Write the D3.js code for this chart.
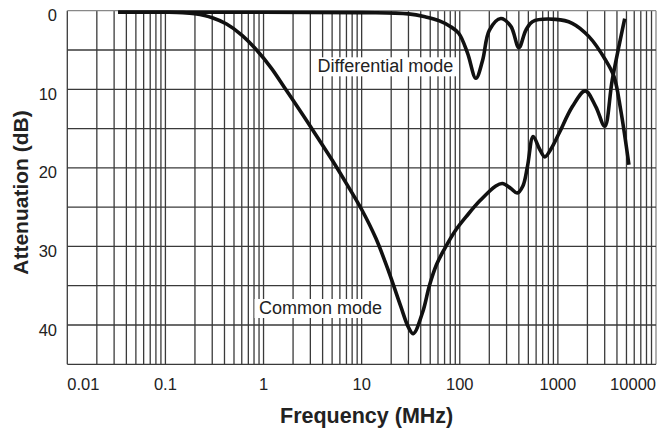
<!DOCTYPE html>
<html>
<head>
<meta charset="utf-8">
<script src="https://cdn.jsdelivr.net/npm/d3@7"></script>
<style>
  html, body { margin: 0; padding: 0; background: #fff; }
  svg { display: block; font-family: "Liberation Sans", Arial, Helvetica, sans-serif; }
</style>
</head>
<body>
<svg id="chart" width="660" height="431"></svg>
<script>
// ---- data ----
const xTickValues = [0.01, 0.1, 1, 10, 100, 1000, 10000];
const xTickLabels = ["0.01", "0.1", "1", "10", "100", "1000", "10000"];
const yTickValues = [0, 10, 20, 30, 40];
const yTickLabels = ["0", "10", "20", "30", "40"];

// Differential mode: frequency (MHz), attenuation (dB)
const diffFreq = [0.033, 1, 10, 30, 45, 62, 80, 98, 120, 146, 171, 200, 262, 332, 400, 471, 550, 950, 1400, 2075, 3069, 3733, 4365, 5297];
const diffAtt  = [0.2, 0.2, 0.25, 0.4, 0.8, 1.3, 2.0, 2.9, 5.4, 8.6, 6.3, 2.5, 1.0, 2.0, 4.7, 2.5, 1.4, 1.1, 1.6, 3.3, 6.3, 8.4, 12.6, 19.6];

// Common mode
const cmFreq = [0.033, 0.1, 0.15, 0.2, 0.3, 0.42, 0.6, 0.85, 1.2, 1.7, 2.5, 3.5, 5, 7, 10, 14, 19, 25, 30, 33.6, 42, 49, 58, 70, 90, 120, 160, 233, 272, 330, 385, 440, 490, 560, 650, 735, 850, 1028, 1406, 1900, 2432, 3000, 3583, 4800];
const cmAtt  = [0.2, 0.2, 0.25, 0.4, 0.9, 1.7, 3.1, 5.0, 7.3, 10.1, 13.2, 16.0, 19.0, 22.0, 25.3, 29.0, 33.3, 37.6, 40.3, 41.1, 38.3, 35.0, 32.3, 30.3, 28.0, 26.0, 24.2, 22.3, 22.0, 22.6, 23.2, 22.3, 19.8, 16.0, 17.6, 18.6, 17.6, 15.6, 12.2, 10.2, 12.2, 14.7, 8.8, 1.0];

// Curve labels (anchored in data coordinates)
const labelNames = ["Differential mode", "Common mode"];
const labelFreq = [3.55, 0.9];
const labelAtt = [7.84, 38.6];

// ---- layout ----
const svg = d3.select("#chart");
const plot = { left: 67.3, right: 656, top: 10.7, bottom: 364.3 };

const x = d3.scaleLog().domain([0.01, 10000]).range([plot.left, plot.right]);
const y = d3.scaleLinear().domain([0, 45]).range([plot.top, plot.bottom]);

const gridColor = "#3a3a3a";

// vertical grid lines (1..9 per decade)
const vLines = [];
for (let d = 0.01; d < 10000 * 0.99; d *= 10) {
  for (let k = 1; k <= 9; k++) vLines.push(+(d * k).toPrecision(6));
}
vLines.push(10000);

svg.append("g").selectAll("line").data(vLines).join("line")
  .attr("x1", d => x(d)).attr("x2", d => x(d))
  .attr("y1", plot.top).attr("y2", plot.bottom)
  .attr("stroke", d => (d === 10000 ? "#888" : gridColor))
  .attr("stroke-width", 1.3);

// horizontal grid lines every 5 dB
const hLines = d3.range(0, 46, 5);
svg.append("g").selectAll("line").data(hLines).join("line")
  .attr("x1", plot.left).attr("x2", plot.right)
  .attr("y1", d => y(d)).attr("y2", d => y(d))
  .attr("stroke", d => (d === 0 ? "#888" : gridColor))
  .attr("stroke-width", 1.3);

// x tick labels
svg.append("g").selectAll("text").data(xTickValues).join("text")
  .attr("x", d => x(d))
  .attr("y", plot.bottom + 26)
  .attr("text-anchor", (d, i) => i === 0 ? "start" : (i === xTickValues.length - 1 ? "end" : "middle"))
  .attr("font-size", 16.5)
  .attr("fill", "#222")
  .text((d, i) => xTickLabels[i]);

// y tick labels
svg.append("g").selectAll("text").data(yTickValues).join("text")
  .attr("x", 57)
  .attr("y", d => y(d) + 10.5)
  .attr("text-anchor", "end")
  .attr("font-size", 16.5)
  .attr("fill", "#222")
  .text((d, i) => yTickLabels[i]);

// axis titles
svg.append("text")
  .attr("x", (plot.left + plot.right) / 2 + 5)
  .attr("y", 423)
  .attr("text-anchor", "middle")
  .attr("font-size", 21.5)
  .attr("font-weight", "bold")
  .attr("fill", "#222")
  .text("Frequency (MHz)");

svg.append("text")
  .attr("transform", "translate(28," + ((plot.top + plot.bottom) / 2 + 5) + ") rotate(-90)")
  .attr("text-anchor", "middle")
  .attr("font-size", 21)
  .attr("font-weight", "bold")
  .attr("fill", "#222")
  .text("Attenuation (dB)");

// curve labels with white boxes
const lab = svg.append("g").selectAll("g").data(labelNames).join("g");
lab.each(function (name, i) {
  const g = d3.select(this);
  const t = g.append("text")
    .attr("x", x(labelFreq[i]))
    .attr("y", y(labelAtt[i]))
    .attr("font-size", 18)
    .attr("fill", "#222")
    .text(name);
  const bb = t.node().getBBox();
  g.insert("rect", "text")
    .attr("x", bb.x - 4.5)
    .attr("y", bb.y + 1)
    .attr("width", bb.width + 8)
    .attr("height", bb.height - 1)
    .attr("fill", "#fff");
});

// curves
const line = d3.line()
  .x(d => x(d[0]))
  .y(d => y(d[1]))
  .curve(d3.curveCatmullRom.alpha(0.5));

const diffData = diffFreq.map((f, i) => [f, diffAtt[i]]);
const cmData = cmFreq.map((f, i) => [f, cmAtt[i]]);

svg.append("path").datum(diffData)
  .attr("d", line).attr("fill", "none")
  .attr("stroke", "#111").attr("stroke-width", 3.6)
  .attr("stroke-linecap", "butt").attr("stroke-linejoin", "round");

svg.append("path").datum(cmData)
  .attr("d", line).attr("fill", "none")
  .attr("stroke", "#111").attr("stroke-width", 3.6)
  .attr("stroke-linecap", "butt").attr("stroke-linejoin", "round");
</script>
</body>
</html>
